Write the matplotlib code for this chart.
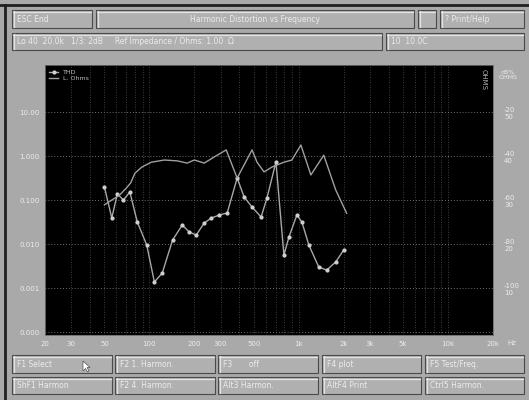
import numpy as np
import matplotlib
matplotlib.use('Agg')
import matplotlib.pyplot as plt
from matplotlib.patches import Rectangle, Polygon
from matplotlib.lines import Line2D
from matplotlib.ticker import LogLocator, NullFormatter, NullLocator

W, H = 529, 400

# THD (%) vs frequency (Hz)
thd_freq = [50, 56, 61, 67, 74, 83, 96, 108, 122, 143, 166, 185, 206, 233, 260, 294, 332,
            387, 431, 487, 560, 613, 704, 796, 860, 972, 1050, 1169, 1362, 1540, 1769, 2000]
thd_pct = [0.197, 0.039, 0.137, 0.100, 0.152, 0.0316, 0.0095, 0.00137, 0.00219, 0.0123,
           0.0270, 0.0187, 0.0160, 0.030, 0.039, 0.0456, 0.0507, 0.316, 0.117, 0.0693,
           0.041, 0.111, 0.731, 0.0056, 0.0144, 0.0456, 0.0316, 0.0095, 0.0030, 0.00256,
           0.0039, 0.0073]

# impedance (Ohms) vs frequency (Hz)
imp_freq = [50, 56, 63, 70, 75, 80, 89, 103, 126, 154, 179, 200, 233, 272, 327, 387, 487,
            526, 586, 662, 796, 900, 1034, 1206, 1471, 1769, 2094]
imp_ohm = [28.9, 30.0, 31.1, 32.7, 33.9, 36.1, 37.5, 38.6, 39.1, 38.9, 38.4, 39.1, 38.4,
           39.8, 41.4, 35.0, 41.4, 38.6, 36.4, 37.5, 38.6, 39.1, 42.5, 35.7, 40.2, 32.3, 27.0]

x_ticks = [20, 30, 50, 100, 200, 300, 500, 1000, 2000, 3000, 5000, 10000, 20000]
x_labels = ['20', '30', '50', '100', '200', '300', '500', '1k', '2k', '3k', '5k', '10k', '20k']
left_ticks = [10, 1, 0.1, 0.01, 0.001, 0.0001]
left_labels = ['10.00', '1.000', '0.100', '0.010', '0.001', '0.000']
right_ticks = [50, 40, 30, 20, 10]
right_labels = ['-20\n50', '-40\n40', '-60\n30', '-80\n20', '-100\n10']

top_buttons = ['F1 Select', 'F2 1. Harmon.', 'F3       off', 'F4 plot', 'F5 Test/Freq.']
bot_buttons = ['ShF1 Harmon', 'F2 4. Harmon.', 'Alt3 Harmon.', 'AltF4 Print', 'Ctrl5 Harmon.']

BG = '#a9a9a9'
FACE = '#b0b0b0'
TXT = '#ececec'

fig = plt.figure(figsize=(W / 100, H / 100), dpi=100, facecolor=BG)


def fx(x):
    return x / W


def fy(y):
    return 1 - y / H


def box(x0, y0, x1, y1, text=None, ha='left', fs=5.5):
    fig.add_artist(Rectangle((fx(x0), fy(y1)), fx(x1 - x0), (y1 - y0) / H,
                             transform=fig.transFigure, facecolor=FACE,
                             edgecolor='#4a4a4a', lw=0.8))
    fig.add_artist(Line2D([fx(x0 + 1), fx(x1 - 1)], [fy(y0 + 1.5)] * 2,
                          transform=fig.transFigure, color='#e2e2e2', lw=0.9))
    fig.add_artist(Line2D([fx(x0 + 1.5)] * 2, [fy(y0 + 1), fy(y1 - 1)],
                          transform=fig.transFigure, color='#e2e2e2', lw=0.9))
    if text:
        tx = x0 + 5 if ha == 'left' else (x0 + x1) / 2
        fig.text(fx(tx), fy((y0 + y1) / 2 + 0.5), text, ha=ha, va='center',
                 fontsize=fs, color=TXT)


# frame edges
fig.add_artist(Line2D([0, 1], [fy(5)] * 2, transform=fig.transFigure, color='#202020', lw=2))
fig.add_artist(Line2D([fx(5)] * 2, [0, fy(5)], transform=fig.transFigure, color='#202020', lw=2))

# top bars
box(12, 10, 92, 28, 'ESC End')
box(96, 10, 414, 28, 'Harmonic Distortion vs Frequency', ha='center')
box(418, 10, 436, 28)
box(440, 10, 524, 28, '? Print/Help')
box(12, 33, 382, 50, 'Lo 40  20.0k   1/3: 2dB     Ref Impedance / Ohms: 1.00  Ω')
box(386, 33, 524, 50, '10  10.0C')

# bottom buttons
edges = [(12, 112), (115, 215), (218, 318), (322, 421), (425, 524)]
for (a, b), t in zip(edges, top_buttons):
    box(a, 355, b, 373, t)
for (a, b), t in zip(edges, bot_buttons):
    box(a, 377, b, 394, t)

# mouse cursor in first button
cur = np.array([[83, 361], [83, 371], [85.5, 368.5], [87.5, 372], [89, 371], [87, 367.5], [90, 367.5]])
fig.add_artist(Polygon(np.column_stack([cur[:, 0] / W, 1 - cur[:, 1] / H]),
                       transform=fig.transFigure, facecolor='white', edgecolor='#303030', lw=0.4))

# plot area
ax = fig.add_axes([fx(45), fy(335), fx(448), 270 / H])
ax.set_facecolor('black')
ax.set_xscale('log')
ax.set_yscale('log')
ax.set_xlim(20, 20000)
ax.set_ylim(8.55e-5, 117)

ax.xaxis.set_minor_locator(LogLocator(base=10, subs=np.arange(1, 10)))
ax.xaxis.set_minor_formatter(NullFormatter())
ax.set_xticks(x_ticks)
ax.set_xticklabels(x_labels)
ax.yaxis.set_minor_locator(NullLocator())
ax.set_yticks(left_ticks)
ax.set_yticklabels(left_labels)
ax.tick_params(which='both', length=0, labelsize=5, colors=TXT, pad=4)
ax.grid(axis='x', which='both', color='#505050', ls=(0, (1, 2)), lw=0.6)
ax.grid(axis='y', which='major', color='#707070', ls=(0, (1, 2)), lw=0.7)
for s in ax.spines.values():
    s.set_color('#6a6a6a')
    s.set_linewidth(0.6)

ax2 = ax.twinx()
ax2.set_ylim(-0.68, 60.7)
ax2.set_yticks(right_ticks)
ax2.set_yticklabels(right_labels)
ax2.tick_params(length=0, labelsize=5, colors=TXT, pad=8)
for s in ax2.spines.values():
    s.set_visible(False)

ax.plot(thd_freq, thd_pct, color='#a8a8a8', lw=1.0, marker='o', ms=2.0,
        mfc='#d0d0d0', mec='#d0d0d0', label='THD')
ax2.plot(imp_freq, imp_ohm, color='#a0a0a0', lw=1.0, label='L. Ohms')

h1, l1 = ax.get_legend_handles_labels()
h2, l2 = ax2.get_legend_handles_labels()
leg = ax2.legend(h1 + h2, l1 + l2, loc='upper left', fontsize=4.5, frameon=False,
                 handlelength=1.4, borderaxespad=0.3, labelspacing=0.2)
for t in leg.get_texts():
    t.set_color('#c0c0c0')

ax.text(0.985, 0.985, 'OHMS', transform=ax.transAxes, rotation=-90, ha='right', va='top',
        fontsize=5, color='#b0b0b0')

fig.text(fx(512), fy(343), 'Hz', ha='center', va='center', fontsize=5, color=TXT)
fig.text(fx(508), fy(75), 'dB%\nOHMS', ha='center', va='center', fontsize=4.5,
         color=TXT, linespacing=1.0)

fig.savefig('out.png', dpi=100, facecolor=BG)
